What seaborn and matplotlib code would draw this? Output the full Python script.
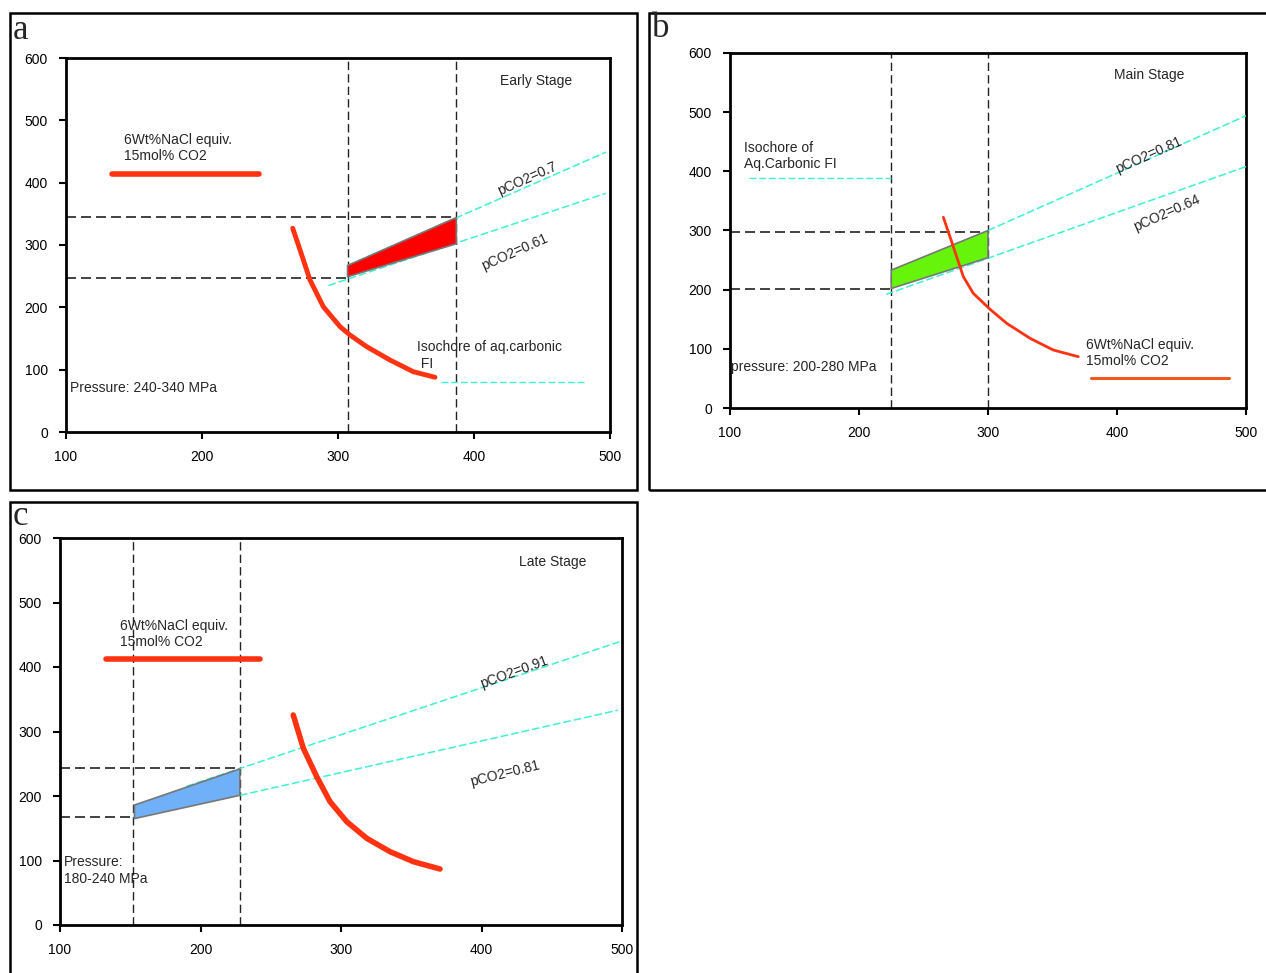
import numpy as np
import pandas as pd
import seaborn as sns
import matplotlib.pyplot as plt
from matplotlib.patches import Rectangle

sns.set_theme(style="white")
plt.rcParams['font.family'] = ['Liberation Sans', 'DejaVu Sans']

# ---- panel a: Early Stage ----
a_vlines = [307, 387]
a_hlines = [345, 247]
a_poly_x = [307, 307, 387, 387]
a_poly_y = [249, 267, 344, 302]
a_upper_x = [307, 497]
a_upper_y = [267, 449]
a_lower_x = [293, 497]
a_lower_y = [235, 383]
a_curve_x = [266.7, 272.1, 279.4, 289.2, 301.5, 308.8, 321.1, 338.2, 355.4, 371.3]
a_curve_y = [326.8, 292.0, 243.9, 201.0, 169.0, 155.6, 136.9, 115.5, 96.7, 87.8]

# ---- panel b: Main Stage ----
b_vlines = [225, 300]
b_hlines = [298, 201]
b_poly_x = [225, 225, 300, 300]
b_poly_y = [202, 233, 300, 254]
b_upper_x = [300, 500]
b_upper_y = [300, 494]
b_lower_x = [221, 500]
b_lower_y = [192, 408]
b_curve_x = [265.4, 270.5, 275.7, 280.9, 288.6, 301.6, 314.5, 332.6, 350.6, 370.0]
b_curve_y = [322.3, 289.5, 255.7, 221.9, 193.8, 166.8, 143.1, 117.8, 98.0, 86.7]

# ---- panel c: Late Stage ----
c_vlines = [152, 228]
c_hlines = [244, 167]
c_poly_x = [153, 153, 228, 228]
c_poly_y = [165, 186, 242, 201]
c_upper_x = [190, 498]
c_upper_y = [215, 439]
c_lower_x = [228, 497]
c_lower_y = [201, 333]
c_curve_x = [266.0, 273.2, 282.7, 292.2, 304.1, 318.3, 334.9, 351.5, 370.5]
c_curve_y = [325.6, 274.0, 230.0, 191.2, 160.2, 134.4, 113.7, 98.2, 86.8]

x_ticks = [100, 200, 300, 400, 500]
y_ticks = [0, 100, 200, 300, 400, 500, 600]

CYAN = "#3ef0d4"
RED = "#ff3311"
W, H = 1266, 973

fig = plt.figure(figsize=(W / 100, H / 100), dpi=100)


def fpos(l, t, r, b):
    return [l / W, 1 - b / H, (r - l) / W, (b - t) / H]


def setup(ax):
    ax.set_xlim(100, 500)
    ax.set_ylim(0, 600)
    ax.set_xticks(x_ticks)
    ax.set_yticks(y_ticks)
    ax.tick_params(direction="out", length=5, width=1.5, labelsize=10,
                   bottom=True, left=True, pad=8, colors="black")
    for s in ax.spines.values():
        s.set_color("black")
        s.set_linewidth(2)
    ax.set_xlabel("")
    ax.set_ylabel("")


def dash_k(ax, xs, ys, lw=1.0):
    ax.plot(xs, ys, color="#222222", lw=lw, ls=(0, (6, 3)), zorder=2)


def iso(ax, xs, ys):
    sns.lineplot(x=xs, y=ys, ax=ax, color=CYAN, lw=1.1, ls=(0, (5, 2)),
                 zorder=3, estimator=None, sort=False)


def panel(ax, vl, hl, px, py, fc, ux, uy, lx, ly, cx, cy, clw, ccol):
    for v in vl:
        dash_k(ax, [v, v], [0, 600])
    dash_k(ax, [100, vl[1]], [hl[0], hl[0]], lw=1.2)
    dash_k(ax, [100, vl[0]], [hl[1], hl[1]], lw=1.2)
    ax.fill(px, py, facecolor=fc, edgecolor="#777777", lw=1.2, zorder=4)
    iso(ax, ux, uy)
    iso(ax, lx, ly)
    line = sns.lineplot(x=cx, y=cy, ax=ax, color=ccol, lw=clw, zorder=5,
                        estimator=None, sort=False)
    line.lines[-1].set_solid_joinstyle("round")


def frame(l, t, r, b, letter, base):
    fig.patches.append(Rectangle((l / W, 1 - b / H), (r - l) / W, (b - t) / H,
                                 transform=fig.transFigure, fill=False,
                                 edgecolor="black", lw=1.8))
    fig.text((l + 3) / W, 1 - base / H, letter, ha="left", va="baseline",
             fontsize=25, family=["Liberation Serif", "DejaVu Serif"])


# panel a
frame(10, 13, 637, 490, "a", 39)
axa = fig.add_axes(fpos(66, 58, 610, 432))
panel(axa, a_vlines, a_hlines, a_poly_x, a_poly_y, "#ff0000",
      a_upper_x, a_upper_y, a_lower_x, a_lower_y, a_curve_x, a_curve_y, 3.5, RED)
sns.lineplot(x=[134, 242], y=[414, 414], ax=axa, color=RED, lw=4)
sns.lineplot(x=[376, 481], y=[81, 81], ax=axa, color=CYAN, lw=1, ls=(0, (5, 2)))
setup(axa)
axa.text(143, 432, "6Wt%NaCl equiv.\n15mol% CO2", fontsize=10, va="bottom")
axa.text(446, 563, "Early Stage", fontsize=10, ha="center", va="center")
axa.text(439, 406, "pCO2=0.7", fontsize=10, ha="center", va="center", rotation=24)
axa.text(430, 289, "pCO2=0.61", fontsize=10, ha="center", va="center", rotation=24)
axa.text(358, 147, "Isochore of aq.carbonic\n FI", fontsize=10, va="top")
axa.text(103, 71, "Pressure: 240-340 MPa", fontsize=10, va="center")

# panel b
frame(649, 13, 1272, 490, "b", 37)
axb = fig.add_axes(fpos(730, 53, 1246, 408))
panel(axb, b_vlines, b_hlines, b_poly_x, b_poly_y, "#66f50a",
      b_upper_x, b_upper_y, b_lower_x, b_lower_y, b_curve_x, b_curve_y, 2.0, RED)
sns.lineplot(x=[380, 487], y=[50, 50], ax=axb, color="#f05a1e", lw=2.2)
sns.lineplot(x=[115, 225], y=[389, 389], ax=axb, color=CYAN, lw=1, ls=(0, (5, 2)))
setup(axb)
axb.text(376, 119, "6Wt%NaCl equiv.\n15mol% CO2", fontsize=10, va="top")
axb.text(425, 562, "Main Stage", fontsize=10, ha="center", va="center")
axb.text(425, 427, "pCO2=0.81", fontsize=10, ha="center", va="center", rotation=24)
axb.text(439, 330, "pCO2=0.64", fontsize=10, ha="center", va="center", rotation=24)
axb.text(111, 452, "Isochore of\nAq.Carbonic FI", fontsize=10, va="top")
axb.text(101, 69, "pressure: 200-280 MPa", fontsize=10, va="center")

# panel c
frame(10, 502, 637, 980, "c", 525)
axc = fig.add_axes(fpos(60, 538, 622, 925))
panel(axc, c_vlines, c_hlines, c_poly_x, c_poly_y, "#70b0f8",
      c_upper_x, c_upper_y, c_lower_x, c_lower_y, c_curve_x, c_curve_y, 4.0, RED)
sns.lineplot(x=[133, 242], y=[413, 413], ax=axc, color=RED, lw=4)
setup(axc)
axc.text(143, 475, "6Wt%NaCl equiv.\n15mol% CO2", fontsize=10, va="top")
axc.text(451, 563, "Late Stage", fontsize=10, ha="center", va="center")
axc.text(423, 392, "pCO2=0.91", fontsize=10, ha="center", va="center", rotation=20)
axc.text(417, 235, "pCO2=0.81", fontsize=10, ha="center", va="center", rotation=14)
axc.text(103, 108, "Pressure:\n180-240 MPa", fontsize=10, va="top")

fig.savefig("out.png", dpi=100)
